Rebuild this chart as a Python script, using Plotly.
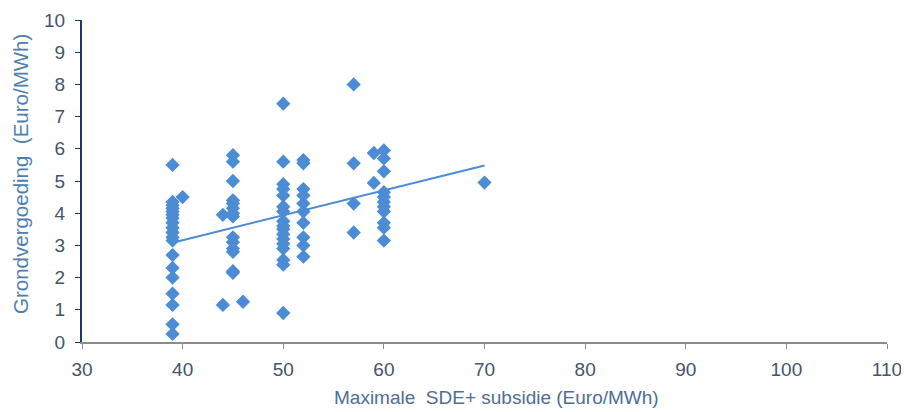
import numpy as np
import plotly.graph_objects as go

# Maximale SDE+ subsidie (Euro/MWh) per group, with Grondvergoeding values
x_groups = [39, 40, 44, 45, 46, 50, 52, 57, 59, 60, 70]
y_groups = [
    [5.5, 4.35, 4.25, 4.15, 4.05, 3.95, 3.85, 3.7, 3.55, 3.4, 3.25, 3.15, 2.7, 2.3, 2.0, 1.5, 1.15, 0.55, 0.25],
    [4.5],
    [3.95, 1.15],
    [5.8, 5.6, 5.0, 4.4, 4.3, 4.15, 4.0, 3.9, 3.25, 3.1, 2.9, 2.8, 2.2, 2.15],
    [1.25],
    [7.4, 5.6, 4.9, 4.75, 4.55, 4.2, 4.05, 3.75, 3.6, 3.5, 3.35, 3.2, 3.05, 2.9, 2.55, 2.4, 0.9],
    [5.65, 5.55, 4.75, 4.55, 4.3, 4.05, 3.7, 3.25, 3.0, 2.65],
    [8.0, 5.55, 4.3, 3.4],
    [5.87, 4.94],
    [5.95, 5.7, 5.3, 4.65, 4.5, 4.35, 4.2, 4.05, 3.7, 3.55, 3.15],
    [4.95],
]
x_ticks = [30, 40, 50, 60, 70, 80, 90, 100, 110]
y_ticks = list(range(0, 11))
x_title = "Maximale  SDE+ subsidie (Euro/MWh)"
y_title = "Grondvergoeding  (Euro/MWh)"

xs = []
ys = []
for gx, gy in zip(x_groups, y_groups):
    xs += [gx] * len(gy)
    ys += gy
xs = np.array(xs, dtype=float)
ys = np.array(ys, dtype=float)

slope, intercept = np.polyfit(xs, ys, 1)
tx = np.array([xs.min(), xs.max()])
ty = slope * tx + intercept

blue = "#4C8CD5"
tick_col = "#44546A"
fig = go.Figure()
fig.add_trace(go.Scatter(x=xs, y=ys, mode="markers",
                         marker=dict(symbol="diamond", size=11, color=blue),
                         showlegend=False, hoverinfo="x+y"))
fig.add_trace(go.Scatter(x=tx, y=ty, mode="lines",
                         line=dict(color=blue, width=2), showlegend=False))

fig.update_layout(
    width=909, height=412,
    margin=dict(l=74, r=30, t=12, b=78),
    paper_bgcolor="white", plot_bgcolor="white",
    font=dict(family="Liberation Sans, Arial, sans-serif", color=tick_col),
)
fig.update_xaxes(
    automargin=False,
    range=[30, 110], tickvals=x_ticks, ticks="outside", ticklen=5,
    tickcolor="#8c8c8c", showline=True, linecolor="#8c8c8c", linewidth=2,
    showgrid=False, zeroline=False, tickfont=dict(size=19, color=tick_col),
    ticklabelstandoff=4,
)
fig.update_yaxes(
    automargin=False,
    range=[0, 10], tickvals=y_ticks, ticks="outside", ticklen=5,
    tickcolor="#1F3864", showline=True, linecolor="#1F3864", linewidth=2,
    showgrid=False, zeroline=False, tickfont=dict(size=19, color=tick_col),
    ticklabelstandoff=6,
)
fig.add_annotation(text=x_title, xref="paper", yref="paper", x=0.5, y=0,
                   xanchor="center", yanchor="middle", xshift=12, yshift=-55,
                   showarrow=False, font=dict(size=19, color="#4E6E95"))
fig.add_annotation(text=y_title, xref="paper", yref="paper", x=0, y=0.5,
                   xanchor="center", yanchor="middle", xshift=-62, yshift=7,
                   textangle=-90, showarrow=False,
                   font=dict(size=20.5, color="#4E7FB0"))

fig.write_html("out.html")
